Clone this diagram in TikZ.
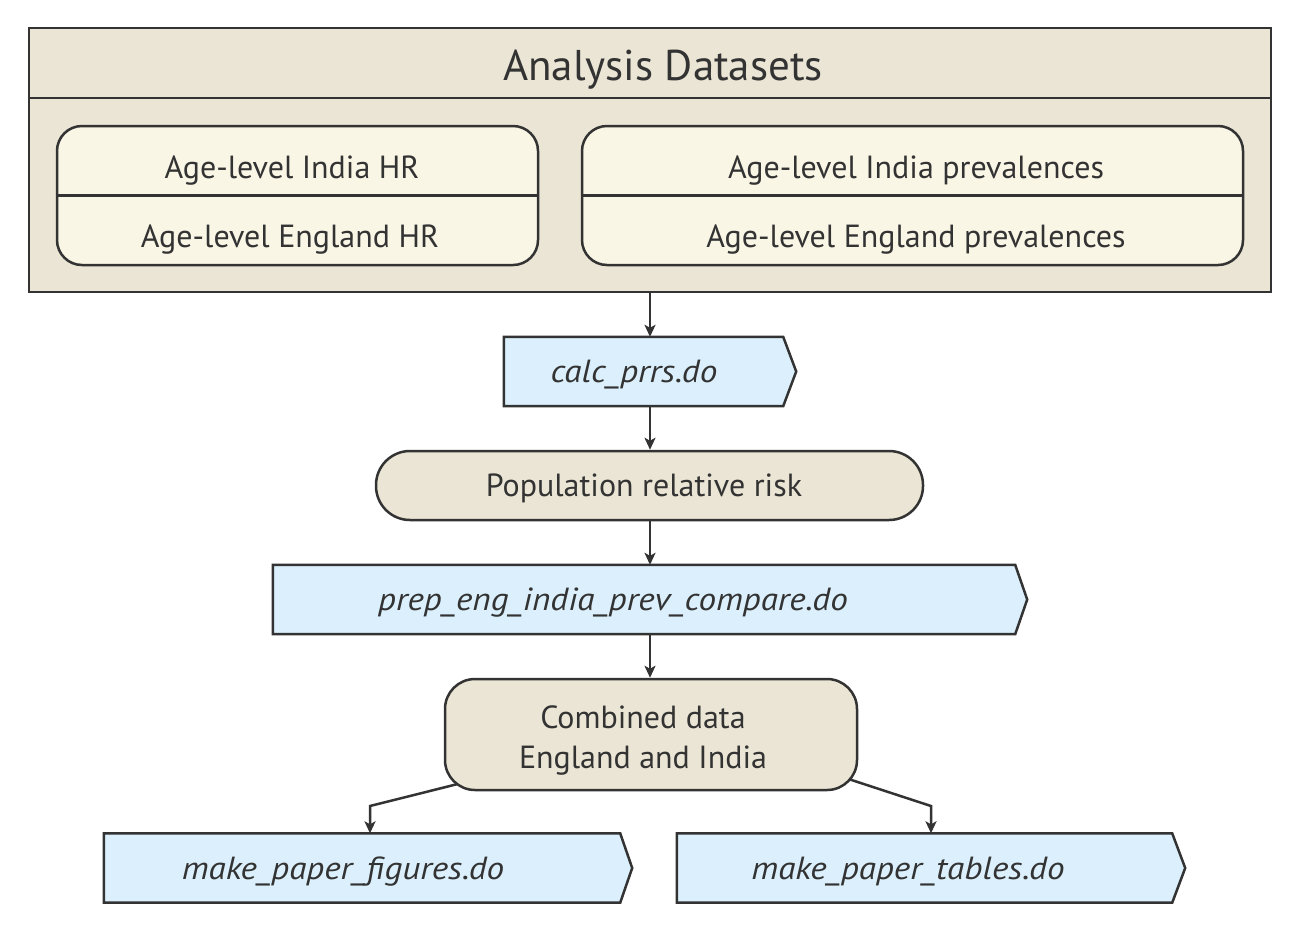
\documentclass[tikz,border=0pt]{standalone}
\usepackage{fontspec}
\setmainfont{PT Sans}[ItalicFeatures={FakeStretch=1.1}]
\usetikzlibrary{arrows.meta}
\definecolor{lc}{HTML}{333333}
\definecolor{beige}{HTML}{EAE5D4}
\definecolor{cream}{HTML}{FAF6E6}
\definecolor{sky}{HTML}{DBF0FC}
\tikzset{
  every node/.style={text=lc, inner sep=0pt},
  bodyfont/.style={font=\fontsize{32}{40}\selectfont},
  lw/.style={line width=2.5pt},
  outerbox/.style={draw=lc, lw, fill=beige, rectangle},
  innerbox/.style={draw=lc, lw, fill=cream, rectangle, rounded corners=25pt},
  pill/.style={draw=lc, lw, fill=beige, rectangle, rounded corners=34pt},
  roundbox/.style={draw=lc, lw, fill=beige, rectangle, rounded corners=30pt},
  flagbody/.style={rectangle, draw=none, minimum height=69pt},
  flagdraw/.style={draw=lc, lw, fill=sky, line join=miter},
  dotext/.style={font=\fontsize{32}{40}\selectfont\itshape, anchor=base},
  plain/.style={bodyfont, anchor=base},
  arr/.style={draw=lc, lw, -{Stealth[length=12pt,width=11pt,inset=3pt]}},
}
\begin{document}
\begin{tikzpicture}[x=1pt,y=-1pt]
\useasboundingbox[fill=white] (0,0) rectangle (1297,930);

% outer container
\node[outerbox, minimum width=1242pt, minimum height=264pt] (ds) at (650,160) {};
\draw[lc, lw] (ds.west |- 0,98) -- (ds.east |- 0,98);
\node[font=\fontsize{43}{50}\selectfont, anchor=base] (title) at (663,80) {Analysis Datasets};

% inner boxes
\node[innerbox, minimum width=481pt, minimum height=139pt] (hr) at (297.5,195.5) {};
\draw[lc, lw] (hr.west) -- (hr.east);
\node[plain] (hrI) at (292,178) {Age-level India HR};
\node[plain] (hrE) at (290,247) {Age-level England HR};

\node[innerbox, minimum width=661pt, minimum height=139pt] (pv) at (912.5,195.5) {};
\draw[lc, lw] (pv.west) -- (pv.east);
\node[plain] (pvI) at (916,178) {Age-level India prevalences};
\node[plain] (pvE) at (916,247) {Age-level England prevalences};

% calc_prrs.do
\node[flagbody, minimum width=279pt] (calc) at (643.5,371.5) {};
\path[flagdraw] (calc.north west) -- (calc.north east) -- ([xshift=13pt]calc.east) -- (calc.south east) -- (calc.south west) -- cycle;
\node[dotext] (calcT) at (634,382) {calc\_prrs.do};

% population relative risk
\node[pill, minimum width=547pt, minimum height=69pt] (prr) at (649.5,485.5) {};
\node[plain] (prrT) at (644,496) {Population relative risk};

% prep
\node[flagbody, minimum width=742pt] (prep) at (644,599.5) {};
\path[flagdraw] (prep.north west) -- (prep.north east) -- ([xshift=12pt]prep.east) -- (prep.south east) -- (prep.south west) -- cycle;
\node[dotext] (prepT) at (613,610) {prep\_eng\_india\_prev\_compare.do};

% combined
\node[roundbox, minimum width=412pt, minimum height=111pt] (comb) at (651,734.5) {};
\node[plain, align=center] (combT) at (643,768) {Combined data\\England and India};

% bottom flags
\node[flagbody, minimum width=516pt] (figs) at (362,868) {};
\path[flagdraw] (figs.north west) -- (figs.north east) -- ([xshift=12pt]figs.east) -- (figs.south east) -- (figs.south west) -- cycle;
\node[dotext] (figsT) at (343,879) {make\_paper\_figures.do};

\node[flagbody, minimum width=495pt] (tabs) at (924.5,868) {};
\path[flagdraw] (tabs.north west) -- (tabs.north east) -- ([xshift=13pt]tabs.east) -- (tabs.south east) -- (tabs.south west) -- cycle;
\node[dotext] (tabsT) at (908,879) {make\_paper\_tables.do};

% connectors
\draw[arr] (ds.south) -- (ds.south |- calc.north);
\draw[arr] (calc.south -| ds.south) -- (ds.south |- prr.north);
\draw[arr] (prr.south -| ds.south) -- (ds.south |- prep.north);
\draw[arr] (prep.south -| ds.south) -- (ds.south |- comb.north);
\coordinate (bl) at (370,806);
\coordinate (br) at (931,806);
\draw[arr] ([xshift=13pt,yshift=7pt]comb.south west) -- (bl) -- (bl |- figs.north);
\draw[arr] ([xshift=-9pt,yshift=12pt]comb.south east) -- (br) -- (br |- tabs.north);
\end{tikzpicture}
\end{document}
